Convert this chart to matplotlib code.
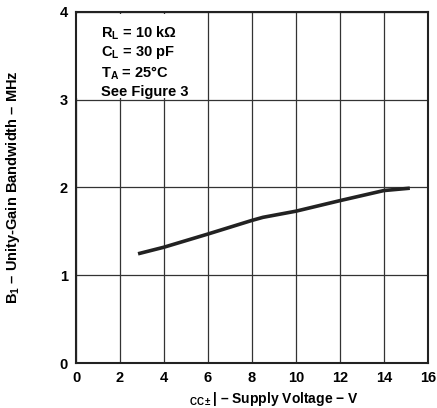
import matplotlib
matplotlib.use("Agg")
import matplotlib.pyplot as plt
from matplotlib.patches import Rectangle

plt.rcParams['font.family'] = ['Liberation Sans', 'DejaVu Sans']
plt.rcParams['font.weight'] = 'bold'
plt.rcParams['mathtext.fontset'] = 'custom'
plt.rcParams['mathtext.rm'] = 'Liberation Sans'
plt.rcParams['mathtext.bf'] = 'Liberation Sans:bold'
plt.rcParams['mathtext.it'] = 'Liberation Sans:italic'

# Data
supply_v = [2.9, 4, 6, 8, 8.5, 10, 12, 14, 15.1]
bandwidth_mhz = [1.25, 1.32, 1.47, 1.625, 1.66, 1.73, 1.85, 1.965, 1.99]
x_ticks = [0, 2, 4, 6, 8, 10, 12, 14, 16]
y_ticks = [0, 1, 2, 3, 4]
conditions = [r"R$_{\mathbf{L}}$ = 10 k$\Omega$",
              r"C$_{\mathbf{L}}$ = 30 pF",
              r"T$_{\mathbf{A}}$ = 25°C",
              "See Figure 3"]

fig = plt.figure(figsize=(4.37, 4.08), dpi=100)
ax = fig.add_axes([0.174, 0.110, 0.805, 0.861])
ax.set_xlim(0, 16)
ax.set_ylim(0, 4)
ax.set_xticks(x_ticks)
ax.set_yticks(y_ticks)
ax.tick_params(length=0, labelsize=10.5, pad=6)
for lab in ax.get_xticklabels() + ax.get_yticklabels():
    lab.set_fontweight('bold')

ax.grid(True, color='#333333', linewidth=0.9, zorder=0)
ax.set_axisbelow(True)
for s in ax.spines.values():
    s.set_linewidth(1.5)
    s.set_color('#222222')

# white panel behind the condition text (hides grid there)
ax.add_patch(Rectangle((0.05, 3.02), 5.85, 0.96, facecolor='white',
                       edgecolor='none', zorder=1))

ax.plot(supply_v, bandwidth_mhz, color='#222222', linewidth=2.6, zorder=3)

ys = [0.94, 0.883, 0.826, 0.772]
for t, yy in zip(conditions, ys):
    ax.text(0.072, yy, t, transform=ax.transAxes, fontsize=10.5,
            fontweight='bold', va='center', ha='left', zorder=4)

ax.set_xlabel(r"$_{\mathrm{CC\pm}}$| – Supply Voltage − V", fontsize=10,
              fontweight='bold')
ax.xaxis.set_label_coords(0.563, -0.077)
ax.set_ylabel(r"B$_{\mathbf{1}}$ – Unity-Gain Bandwidth – MHz", fontsize=10.5,
              fontweight='bold')
ax.yaxis.set_label_coords(-0.155, 0.5)

fig.savefig("out.png", dpi=100)
